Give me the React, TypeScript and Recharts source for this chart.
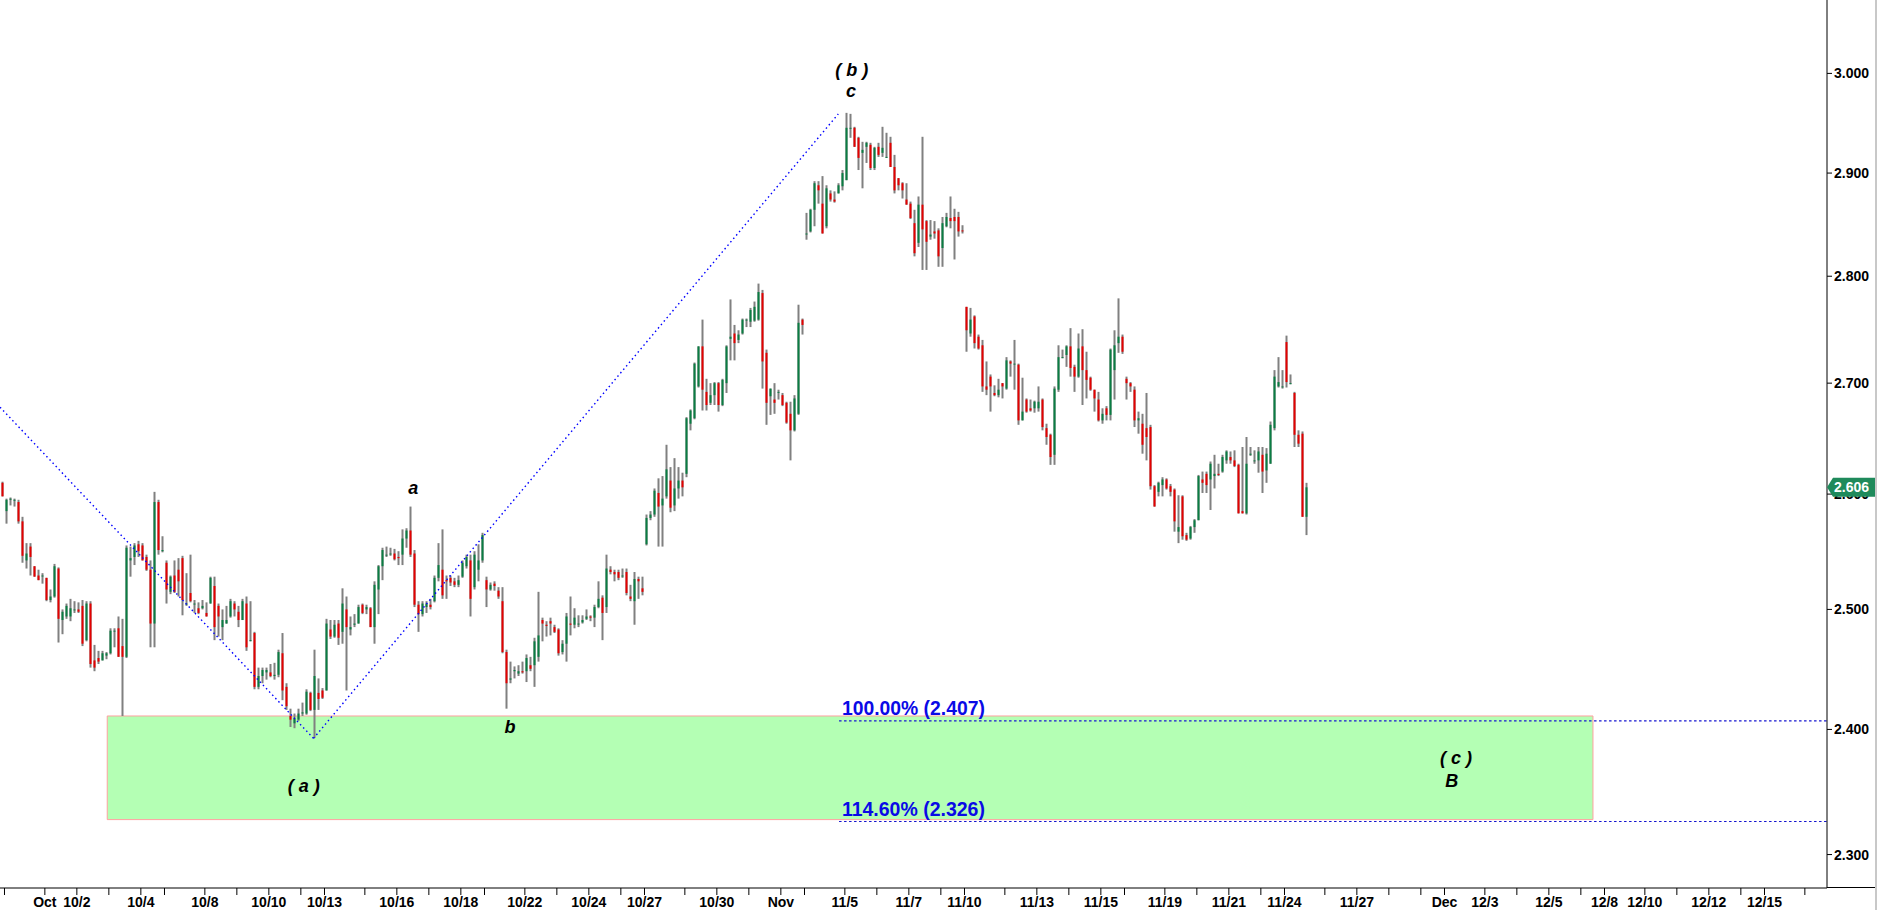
import React from 'react';
import { ComposedChart, Bar, XAxis, YAxis, ReferenceLine, ReferenceArea, ReferenceDot } from 'recharts';

// ---- OHLC bars (about 3 trading hours each, 8 per session), [open, high, low, close] ----
// week of 9/30 - 10/4 (first bar is the tail of the session before)
const WEEK_0930: number[][] = [
  [2.610, 2.611, 2.598, 2.598],
  [2.585, 2.596, 2.574, 2.595], [2.595, 2.597, 2.590, 2.596], [2.595, 2.596, 2.589, 2.595], [2.593, 2.595, 2.574, 2.576],
  [2.576, 2.580, 2.540, 2.546], [2.542, 2.557, 2.535, 2.548], [2.554, 2.557, 2.529, 2.545], [2.537, 2.537, 2.528, 2.528],
  [2.529, 2.534, 2.525, 2.525], [2.529, 2.531, 2.522, 2.529], [2.527, 2.527, 2.507, 2.508], [2.508, 2.517, 2.506, 2.511],
  [2.511, 2.539, 2.510, 2.537], [2.535, 2.536, 2.472, 2.492], [2.491, 2.500, 2.479, 2.498], [2.494, 2.505, 2.492, 2.503],
  [2.494, 2.509, 2.490, 2.501], [2.500, 2.507, 2.497, 2.500], [2.500, 2.506, 2.497, 2.498], [2.503, 2.508, 2.469, 2.471],
  [2.474, 2.507, 2.473, 2.505], [2.505, 2.507, 2.451, 2.454], [2.457, 2.470, 2.448, 2.451], [2.459, 2.465, 2.454, 2.456],
  [2.457, 2.465, 2.457, 2.463], [2.461, 2.464, 2.458, 2.463], [2.463, 2.484, 2.462, 2.482], [2.482, 2.484, 2.468, 2.482],
  [2.484, 2.494, 2.460, 2.460], [2.469, 2.492, 2.411, 2.460], [2.460, 2.555, 2.459, 2.553], [2.542, 2.554, 2.528, 2.544],
  [2.545, 2.557, 2.538, 2.555], [2.556, 2.559, 2.545, 2.550], [2.555, 2.557, 2.542, 2.542], [2.545, 2.547, 2.533, 2.534],
  [2.534, 2.542, 2.468, 2.488], [2.488, 2.602, 2.468, 2.593], [2.593, 2.595, 2.547, 2.551], [2.550, 2.563, 2.549, 2.551],
];
const WEEK_1007: number[][] = [
  [2.540, 2.542, 2.505, 2.517], [2.515, 2.529, 2.513, 2.528], [2.529, 2.542, 2.514, 2.515], [2.534, 2.544, 2.511, 2.524],
  [2.544, 2.546, 2.495, 2.508], [2.505, 2.531, 2.503, 2.505], [2.514, 2.547, 2.506, 2.507], [2.505, 2.508, 2.497, 2.505],
  [2.501, 2.506, 2.496, 2.497], [2.501, 2.508, 2.500, 2.503], [2.497, 2.506, 2.494, 2.494], [2.505, 2.528, 2.505, 2.527],
  [2.520, 2.528, 2.474, 2.485], [2.503, 2.505, 2.477, 2.494], [2.485, 2.500, 2.474, 2.491], [2.488, 2.503, 2.488, 2.491],
  [2.494, 2.509, 2.493, 2.507], [2.505, 2.507, 2.494, 2.500], [2.498, 2.503, 2.485, 2.491], [2.491, 2.509, 2.491, 2.507],
  [2.505, 2.511, 2.465, 2.468], [2.474, 2.507, 2.473, 2.474], [2.480, 2.481, 2.433, 2.435], [2.435, 2.451, 2.433, 2.444],
  [2.444, 2.451, 2.438, 2.449], [2.447, 2.451, 2.441, 2.449], [2.447, 2.454, 2.443, 2.444], [2.444, 2.455, 2.441, 2.445],
  [2.445, 2.466, 2.443, 2.464], [2.463, 2.480, 2.424, 2.432], [2.435, 2.438, 2.416, 2.419], [2.411, 2.417, 2.402, 2.408],
  [2.405, 2.413, 2.401, 2.409], [2.408, 2.417, 2.407, 2.413], [2.413, 2.422, 2.411, 2.414], [2.413, 2.433, 2.412, 2.431],
  [2.430, 2.431, 2.415, 2.416], [2.416, 2.466, 2.393, 2.444], [2.430, 2.442, 2.416, 2.425], [2.432, 2.434, 2.425, 2.426],
];
const WEEK_1014: number[][] = [
  [2.432, 2.492, 2.432, 2.488], [2.483, 2.491, 2.475, 2.477], [2.477, 2.491, 2.476, 2.487], [2.488, 2.491, 2.470, 2.476],
  [2.481, 2.518, 2.471, 2.505], [2.500, 2.511, 2.432, 2.485], [2.483, 2.494, 2.478, 2.485], [2.487, 2.496, 2.485, 2.488],
  [2.488, 2.504, 2.488, 2.502], [2.504, 2.505, 2.496, 2.497], [2.500, 2.504, 2.496, 2.502], [2.501, 2.502, 2.485, 2.485],
  [2.485, 2.524, 2.471, 2.521], [2.517, 2.538, 2.496, 2.537], [2.537, 2.553, 2.525, 2.551], [2.547, 2.554, 2.545, 2.547],
  [2.548, 2.553, 2.546, 2.548], [2.548, 2.552, 2.542, 2.543], [2.545, 2.550, 2.538, 2.544], [2.547, 2.569, 2.538, 2.561],
  [2.561, 2.570, 2.553, 2.568], [2.568, 2.589, 2.545, 2.547], [2.548, 2.551, 2.502, 2.504], [2.504, 2.507, 2.481, 2.496],
  [2.496, 2.507, 2.494, 2.505], [2.502, 2.507, 2.497, 2.505], [2.504, 2.509, 2.500, 2.502], [2.507, 2.529, 2.506, 2.527],
  [2.527, 2.557, 2.524, 2.538], [2.534, 2.569, 2.509, 2.512], [2.525, 2.529, 2.509, 2.524], [2.527, 2.529, 2.520, 2.523],
  [2.524, 2.527, 2.519, 2.521], [2.521, 2.529, 2.519, 2.525], [2.528, 2.542, 2.527, 2.540], [2.537, 2.547, 2.535, 2.545],
  [2.542, 2.547, 2.494, 2.509], [2.519, 2.550, 2.517, 2.547], [2.534, 2.556, 2.524, 2.542], [2.542, 2.566, 2.540, 2.564],
];
const WEEK_1021: number[][] = [
  [2.525, 2.528, 2.502, 2.517], [2.517, 2.523, 2.516, 2.521], [2.522, 2.524, 2.516, 2.520], [2.516, 2.519, 2.509, 2.511],
  [2.507, 2.519, 2.463, 2.464], [2.464, 2.466, 2.417, 2.438], [2.441, 2.456, 2.438, 2.442], [2.448, 2.452, 2.442, 2.449],
  [2.446, 2.453, 2.444, 2.448], [2.448, 2.456, 2.446, 2.447], [2.448, 2.462, 2.439, 2.459], [2.453, 2.460, 2.448, 2.450],
  [2.453, 2.476, 2.435, 2.473], [2.460, 2.515, 2.456, 2.478], [2.491, 2.493, 2.473, 2.488], [2.487, 2.490, 2.477, 2.486],
  [2.490, 2.493, 2.478, 2.488], [2.485, 2.487, 2.480, 2.481], [2.483, 2.484, 2.461, 2.463], [2.464, 2.474, 2.462, 2.471],
  [2.471, 2.497, 2.456, 2.494], [2.488, 2.511, 2.478, 2.487], [2.487, 2.501, 2.484, 2.493], [2.488, 2.495, 2.485, 2.488],
  [2.489, 2.495, 2.488, 2.491], [2.492, 2.500, 2.491, 2.494], [2.494, 2.495, 2.490, 2.493], [2.493, 2.504, 2.485, 2.502],
  [2.502, 2.524, 2.501, 2.509], [2.510, 2.512, 2.474, 2.497], [2.502, 2.547, 2.497, 2.535], [2.534, 2.537, 2.530, 2.532],
  [2.532, 2.534, 2.524, 2.530], [2.532, 2.534, 2.525, 2.527], [2.529, 2.535, 2.527, 2.529], [2.532, 2.535, 2.512, 2.514],
  [2.511, 2.521, 2.507, 2.509], [2.507, 2.532, 2.487, 2.526], [2.526, 2.528, 2.509, 2.524], [2.518, 2.528, 2.512, 2.515],
];
const WEEK_1028: number[][] = [
  [2.556, 2.582, 2.555, 2.579], [2.579, 2.585, 2.577, 2.582], [2.582, 2.605, 2.580, 2.603], [2.601, 2.614, 2.554, 2.589],
  [2.590, 2.616, 2.554, 2.596], [2.598, 2.644, 2.596, 2.622], [2.612, 2.624, 2.584, 2.588], [2.590, 2.632, 2.585, 2.605],
  [2.605, 2.624, 2.596, 2.612], [2.612, 2.619, 2.598, 2.606], [2.618, 2.669, 2.615, 2.668], [2.663, 2.676, 2.657, 2.675],
  [2.668, 2.719, 2.667, 2.718], [2.697, 2.734, 2.696, 2.734], [2.734, 2.759, 2.675, 2.694], [2.692, 2.704, 2.675, 2.680],
  [2.682, 2.700, 2.680, 2.689], [2.689, 2.701, 2.680, 2.700], [2.700, 2.701, 2.674, 2.680], [2.680, 2.704, 2.679, 2.703],
  [2.700, 2.735, 2.691, 2.734], [2.741, 2.778, 2.721, 2.743], [2.746, 2.754, 2.721, 2.737], [2.740, 2.749, 2.737, 2.745],
  [2.746, 2.760, 2.745, 2.759], [2.759, 2.760, 2.752, 2.759], [2.757, 2.770, 2.752, 2.768], [2.758, 2.776, 2.757, 2.771],
  [2.759, 2.793, 2.758, 2.785], [2.784, 2.787, 2.695, 2.720], [2.728, 2.731, 2.662, 2.682], [2.688, 2.695, 2.671, 2.695],
  [2.685, 2.700, 2.672, 2.682], [2.692, 2.694, 2.685, 2.692], [2.689, 2.691, 2.679, 2.680], [2.682, 2.683, 2.663, 2.664],
  [2.672, 2.683, 2.630, 2.657], [2.657, 2.689, 2.656, 2.686], [2.672, 2.773, 2.671, 2.756], [2.759, 2.760, 2.745, 2.754],
];
const WEEK_1104: number[][] = [
  [2.841, 2.861, 2.835, 2.841], [2.843, 2.865, 2.842, 2.864], [2.864, 2.892, 2.848, 2.890], [2.888, 2.892, 2.870, 2.883],
  [2.870, 2.897, 2.841, 2.841], [2.848, 2.888, 2.846, 2.885], [2.880, 2.883, 2.872, 2.874], [2.874, 2.882, 2.871, 2.872],
  [2.880, 2.890, 2.880, 2.888], [2.887, 2.903, 2.883, 2.900], [2.893, 2.960, 2.893, 2.945], [2.945, 2.959, 2.935, 2.945],
  [2.945, 2.946, 2.926, 2.926], [2.935, 2.936, 2.903, 2.915], [2.920, 2.931, 2.885, 2.923], [2.926, 2.931, 2.910, 2.930],
  [2.928, 2.930, 2.903, 2.905], [2.905, 2.926, 2.903, 2.925], [2.926, 2.930, 2.916, 2.918], [2.920, 2.946, 2.916, 2.925],
  [2.916, 2.940, 2.915, 2.916], [2.930, 2.936, 2.906, 2.906], [2.906, 2.918, 2.880, 2.883], [2.895, 2.895, 2.883, 2.888],
  [2.890, 2.891, 2.875, 2.883], [2.874, 2.890, 2.869, 2.869], [2.870, 2.872, 2.855, 2.856], [2.851, 2.864, 2.819, 2.822],
  [2.832, 2.877, 2.828, 2.869], [2.869, 2.936, 2.806, 2.845], [2.853, 2.854, 2.806, 2.833], [2.838, 2.854, 2.835, 2.840],
  [2.843, 2.853, 2.836, 2.841], [2.844, 2.846, 2.809, 2.819], [2.827, 2.857, 2.809, 2.851], [2.848, 2.861, 2.847, 2.857],
  [2.856, 2.877, 2.846, 2.853], [2.857, 2.865, 2.816, 2.853], [2.857, 2.862, 2.838, 2.843], [2.844, 2.849, 2.841, 2.843],
];
const WEEK_1111: number[][] = [
  [2.771, 2.771, 2.729, 2.749], [2.746, 2.770, 2.743, 2.759], [2.762, 2.763, 2.732, 2.737], [2.743, 2.745, 2.731, 2.732],
  [2.735, 2.740, 2.692, 2.697], [2.697, 2.720, 2.689, 2.694], [2.706, 2.708, 2.674, 2.697], [2.691, 2.698, 2.688, 2.689],
  [2.689, 2.704, 2.687, 2.694], [2.700, 2.700, 2.686, 2.697], [2.695, 2.724, 2.694, 2.721], [2.720, 2.721, 2.706, 2.718],
  [2.718, 2.740, 2.694, 2.718], [2.717, 2.718, 2.662, 2.666], [2.666, 2.705, 2.666, 2.674], [2.685, 2.686, 2.673, 2.674],
  [2.677, 2.685, 2.674, 2.675], [2.677, 2.684, 2.673, 2.683], [2.677, 2.697, 2.674, 2.683], [2.685, 2.686, 2.657, 2.660],
  [2.659, 2.663, 2.644, 2.651], [2.653, 2.654, 2.626, 2.633], [2.635, 2.697, 2.626, 2.695], [2.694, 2.735, 2.692, 2.724],
  [2.724, 2.731, 2.723, 2.724], [2.726, 2.735, 2.715, 2.734], [2.734, 2.751, 2.706, 2.714], [2.715, 2.717, 2.692, 2.706],
  [2.706, 2.746, 2.705, 2.732], [2.734, 2.750, 2.680, 2.712], [2.712, 2.729, 2.686, 2.703], [2.705, 2.706, 2.693, 2.694],
  [2.694, 2.694, 2.674, 2.686], [2.685, 2.692, 2.665, 2.666], [2.666, 2.677, 2.663, 2.672], [2.677, 2.679, 2.666, 2.671],
  [2.671, 2.732, 2.666, 2.731], [2.712, 2.749, 2.685, 2.735], [2.737, 2.779, 2.728, 2.743], [2.743, 2.745, 2.727, 2.729],
];
const WEEK_1118: number[][] = [
  [2.704, 2.706, 2.685, 2.700], [2.700, 2.701, 2.692, 2.697], [2.694, 2.697, 2.660, 2.666], [2.666, 2.674, 2.654, 2.668],
  [2.663, 2.672, 2.636, 2.644], [2.659, 2.691, 2.630, 2.651], [2.660, 2.662, 2.604, 2.607], [2.607, 2.608, 2.589, 2.589],
  [2.602, 2.611, 2.598, 2.610], [2.608, 2.615, 2.598, 2.613], [2.613, 2.614, 2.604, 2.605], [2.607, 2.609, 2.598, 2.602],
  [2.604, 2.605, 2.567, 2.576], [2.567, 2.599, 2.557, 2.571], [2.598, 2.599, 2.560, 2.563], [2.564, 2.566, 2.559, 2.560],
  [2.561, 2.572, 2.560, 2.571], [2.571, 2.578, 2.566, 2.577], [2.577, 2.617, 2.577, 2.616], [2.613, 2.620, 2.601, 2.610],
  [2.618, 2.620, 2.601, 2.608], [2.613, 2.629, 2.586, 2.627], [2.616, 2.635, 2.605, 2.618], [2.618, 2.627, 2.616, 2.617],
  [2.620, 2.635, 2.619, 2.633], [2.630, 2.639, 2.627, 2.638], [2.633, 2.638, 2.627, 2.630], [2.630, 2.639, 2.624, 2.625],
  [2.626, 2.627, 2.583, 2.583], [2.585, 2.642, 2.583, 2.583], [2.583, 2.651, 2.582, 2.627], [2.635, 2.642, 2.634, 2.636],
  [2.630, 2.639, 2.627, 2.630], [2.630, 2.642, 2.619, 2.638], [2.635, 2.642, 2.601, 2.620], [2.621, 2.641, 2.610, 2.636],
  [2.627, 2.665, 2.627, 2.662], [2.659, 2.712, 2.657, 2.706], [2.697, 2.724, 2.696, 2.701], [2.697, 2.712, 2.695, 2.697],
];
const WEEK_1125: number[][] = [
  [2.738, 2.744, 2.696, 2.701], [2.700, 2.708, 2.699, 2.700], [2.691, 2.692, 2.642, 2.653], [2.653, 2.657, 2.642, 2.645],
  [2.654, 2.656, 2.580, 2.580], [2.580, 2.610, 2.564, 2.606],
];

// session index (trading days, 0 = week of 10/7) and 3-hour slot where each block starts
const WEEKS = [WEEK_0930, WEEK_1007, WEEK_1014, WEEK_1021, WEEK_1028, WEEK_1104, WEEK_1111, WEEK_1118, WEEK_1125];
const WEEK_START_SESSION = [-6, 0, 5, 10, 15, 20, 25, 30, 35];
const WEEK_START_SLOT = [7, 0, 0, 0, 0, 0, 0, 0, 0];
const SLOTS_PER_SESSION = 8;

const LAST_PRICE = 2.606;

// x axis: date ticks (session units) and their labels
const X_TICKS = [-5, -3.739, -2.739, -1.739, -0.739, 0, 1.261, 2.261, 3.261, 4.261, 5, 6.261, 7.261, 8.261, 9.261, 10,
  11.261, 12.261, 13.261, 14.261, 15, 16.261, 17.261, 18.261, 19.261, 20, 21.261, 22.261, 23.261, 24.261, 25,
  26.261, 27.261, 28.261, 29.261, 30, 31.261, 32.261, 33.261, 34.261, 35, 36.261, 37.261, 38.261, 39.261, 40,
  41.261, 42.261, 43.261, 44.261, 45, 46.261, 47.261, 48.261, 49.261, 50, 51.261];
const X_LABELS = ['', 'Oct', '10/2', '', '10/4', '', '10/8', '', '10/10', '', '10/13', '', '10/16', '', '10/18', '',
  '10/22', '', '10/24', '', '10/27', '', '10/30', '', 'Nov', '', '11/5', '', '11/7', '', '11/10',
  '', '11/13', '', '11/15', '', '11/19', '', '11/21', '', '11/24', '', '11/27', '', '', 'Dec',
  '12/3', '', '12/5', '', '12/8', '12/10', '', '12/12', '', '12/15', ''];
const Y_TICKS = [2.3, 2.4, 2.5, 2.6, 2.7, 2.8, 2.9, 3.0];

const X_DOMAIN: [number, number] = [-5.1406, 51.953];
const Y_DOMAIN: [number, number] = [2.27398, 3.07584];

// wave count annotations
const WAVE_LABELS = [
  { t: 21.48, p: 3.004, text: '( b )' },
  { t: 21.45, p: 2.9826, text: 'c' },
  { t: 7.77, p: 2.6054, text: 'a' },
  { t: 10.8, p: 2.402, text: 'b' },
  { t: 4.35, p: 2.355, text: '( a )' },
  { t: 40.36, p: 2.3768, text: '( c )' },
  { t: 40.23, p: 2.359, text: 'B' },
];
// zigzag (blue dotted) pivots
const ZIGZAG = [
  { t: -5.14, p: 2.678 },
  { t: 4.656, p: 2.3927 },
  { t: 21.056, p: 2.9589 },
];
// Fibonacci projection zone
const FIB_LEVELS = [
  { p: 2.407, text: '100.00% (2.407)' },
  { p: 2.326, text: '114.60% (2.326)' },
];
const FIB_START_T = 21.08;
const FIB_TEXT_T = 21.2;
const ZONE = { t1: -1.79, t2: 44.64, p1: 2.3275, p2: 2.411 };

const bars = WEEKS.flatMap((wk, w) =>
  wk.map((b, i) => ({
    t: WEEK_START_SESSION[w] + (WEEK_START_SLOT[w] + i + 0.5) / SLOTS_PER_SESSION,
    o: b[0], h: b[1], l: b[2], c: b[3],
    range: [b[2], b[1]],
  }))
);

const GREEN = '#0a7d43';
const RED = '#e40000';
const WICK = '#808080';
const FONT = "'Liberation Sans', Arial, sans-serif";

const Candle = (props: any) => {
  const { x, y, width, height, payload } = props;
  if (!payload || !isFinite(y)) return null;
  const cx = x + width / 2;
  const { o, h, l, c } = payload;
  const lnH = Math.log(h);
  const span = lnH - Math.log(l) || 1e-9;
  const yOf = (v: number) => y + (height * (lnH - Math.log(v))) / span;
  const top = yOf(Math.max(o, c));
  const bot = yOf(Math.min(o, c));
  return (
    <g>
      <rect x={cx - 1} y={y} width={2} height={Math.max(height, 1)} fill={WICK} />
      <rect x={cx - 1} y={top} width={2} height={Math.max(bot - top, 1)} fill={c >= o ? GREEN : RED} />
    </g>
  );
};

const XTick = (props: any) => {
  const { x, y, payload, index } = props;
  let idx = X_TICKS.indexOf(payload.value);
  if (idx < 0) idx = index;
  const lab = X_LABELS[idx];
  if (!lab) return null;
  return (
    <text x={x} y={y} dy={11.8} textAnchor="middle" fill="#000" fontSize={14} fontWeight={700}
      fontFamily={FONT}>{lab}</text>
  );
};

const waveLabel = (text: string) => (p: any) => {
  const vb = p.viewBox || {};
  const cx = (vb.x || 0) + (vb.width || 0) / 2;
  const cy = (vb.y || 0) + (vb.height || 0) / 2;
  return (
    <text x={cx} y={cy} dy="0.36em" textAnchor="middle" fill="#000" fontSize={18} fontWeight={700}
      fontStyle="italic" fontFamily={FONT} style={{ whiteSpace: 'pre' }}>{text}</text>
  );
};

const fibLabel = (text: string) => (p: any) => {
  const vb = p.viewBox || {};
  const x = vb.x || 0;
  const y = vb.y || 0;
  return (
    <text x={x} y={y - 5} fill="#0a0ae6" fontSize={20} fontWeight={700} textLength={143} lengthAdjust="spacingAndGlyphs"
      fontFamily={FONT}>{text}</text>
  );
};

const priceTag = (p: any) => {
  const vb = p.viewBox || {};
  const x = (vb.x || 0) + (vb.width || 0);
  const y = vb.y || 0;
  return (
    <g>
      <polygon points={`${x},${y} ${x + 6},${y - 9.5} ${x + 48},${y - 9.5} ${x + 48},${y + 9.5} ${x + 6},${y + 9.5}`} fill="#1f8a5b" />
      <text x={x + 7} y={y} dy="0.36em" fill="#fff" fontSize={14} fontWeight={700}
        fontFamily={FONT}>{LAST_PRICE.toFixed(3)}</text>
    </g>
  );
};

export default function App() {
  return (
    <div style={{ position: 'absolute', left: 0, top: 0, width: 1878, height: 910, background: '#fff' }}>
      <ComposedChart width={1878} height={910} data={bars} margin={{ top: 0, right: 0, bottom: 0, left: 0 }}>
        <XAxis dataKey="t" type="number" domain={X_DOMAIN} allowDataOverflow ticks={X_TICKS} interval={0}
          height={22} tickSize={7} tickMargin={0} axisLine={{ stroke: '#000' }} tickLine={{ stroke: '#000' }}
          tick={<XTick />} />
        <YAxis orientation="right" scale="log" domain={Y_DOMAIN} allowDataOverflow ticks={Y_TICKS} interval={0}
          width={51} tickSize={5} tickMargin={2} axisLine={{ stroke: '#000' }} tickLine={{ stroke: '#000' }}
          tickFormatter={(v: number) => v.toFixed(3)}
          tick={{ fill: '#000', fontSize: 14, fontWeight: 700, fontFamily: FONT }} />
        <ReferenceArea x1={ZONE.t1} x2={ZONE.t2} y1={ZONE.p1} y2={ZONE.p2} fill="#b4ffb4" fillOpacity={1}
          stroke="#ffa0a0" strokeWidth={1} ifOverflow="hidden" />
        {FIB_LEVELS.map((f) => (
          <ReferenceLine key={f.text} segment={[{ x: FIB_START_T, y: f.p }, { x: X_DOMAIN[1], y: f.p }]}
            stroke="#1414d0" strokeWidth={1.2} strokeDasharray="2.5 2.5" ifOverflow="hidden" />
        ))}
        <Bar dataKey="range" barSize={2} shape={<Candle />} isAnimationActive={false} />
        {ZIGZAG.slice(1).map((pt, i) => (
          <ReferenceLine key={'z' + i} segment={[{ x: ZIGZAG[i].t, y: ZIGZAG[i].p }, { x: pt.t, y: pt.p }]}
            stroke="#0000ff" strokeWidth={1.4} strokeDasharray="1.5 3" ifOverflow="hidden" />
        ))}
        {FIB_LEVELS.map((f) => (
          <ReferenceDot key={'ft' + f.text} x={FIB_TEXT_T} y={f.p} r={1} fill="none" stroke="none"
            label={{ content: fibLabel(f.text) }} />
        ))}
        {WAVE_LABELS.map((w) => (
          <ReferenceDot key={w.text + w.t} x={w.t} y={w.p} r={1} fill="none" stroke="none"
            label={{ content: waveLabel(w.text) }} />
        ))}
        <ReferenceLine y={LAST_PRICE} stroke="none" ifOverflow="visible" zIndex={3000} label={{ content: priceTag }} />
      </ComposedChart>
      <svg width={1878} height={910} style={{ position: 'absolute', left: 0, top: 0, pointerEvents: 'none' }}>
        <line x1={1827} y1={887.5} x2={1876} y2={887.5} stroke="#000" strokeWidth={1} />
        <line x1={1876} y1={0} x2={1876} y2={910} stroke="#c8c8c8" strokeWidth={2} />
      </svg>
    </div>
  );
}
